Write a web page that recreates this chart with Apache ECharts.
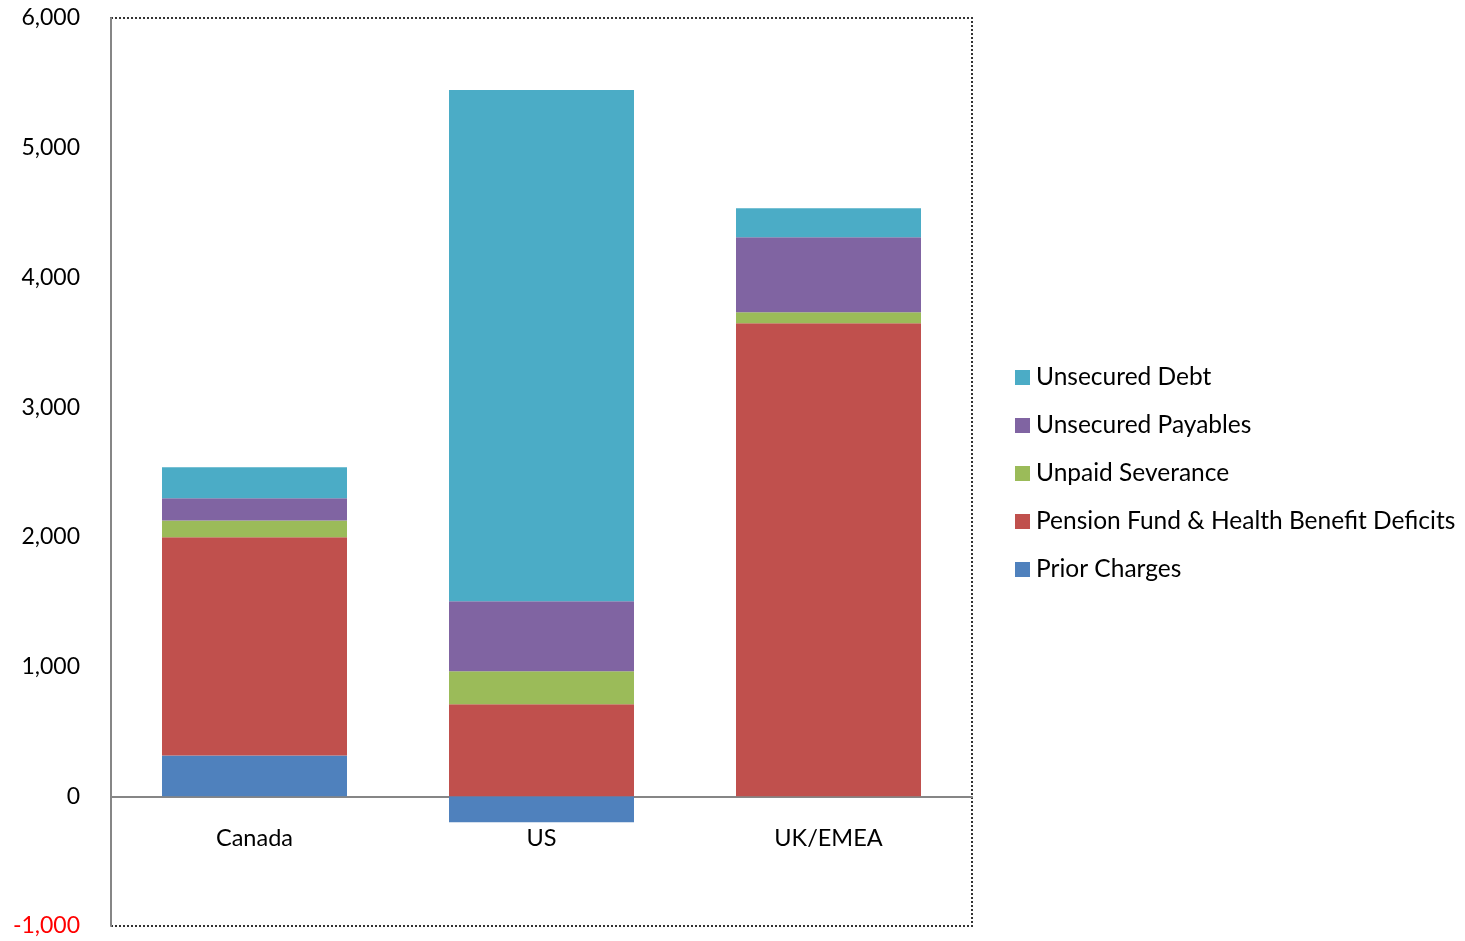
<!DOCTYPE html>
<html>
<head>
<meta charset="utf-8">
<script src="https://cdn.jsdelivr.net/npm/echarts@6/dist/echarts.min.js"></script>
<style>
  html, body { margin: 0; padding: 0; background: #ffffff; }
  #chart { width: 1465px; height: 941px; }
</style>
</head>
<body>
<div id="chart"></div>
<script>
// Regions along the x axis
const regions = ['Canada', 'US', 'UK/EMEA'];

// Claim components per region (stacked bottom to top)
const priorCharges = [315, -200, 0];
const pensionDeficits = [1682, 709, 3647];
const unpaidSeverance = [130, 255, 85];
const unsecuredPayables = [170, 540, 578];
const unsecuredDebt = [240, 3940, 224];

// Y axis tick range
const yMin = -1000;
const yMax = 6000;
const yStep = 1000;

const fontFamily = 'Lato, "Open Sans", sans-serif';

// Plot area placement
const gridTop = 18;
const gridBottom = 15;
const chartHeight = 941;
const plotHeight = chartHeight - gridTop - gridBottom;
// Lift the category axis from the bottom edge up to the zero line
const zeroLift = plotHeight * (0 - yMin) / (yMax - yMin);

const chart = echarts.init(document.getElementById('chart'));

function bar(name, data, color) {
  return {
    name: name,
    type: 'bar',
    stack: 'total',
    data: data,
    barWidth: 185,
    itemStyle: { color: color },
    emphasis: { disabled: true }
  };
}

chart.setOption({
  animation: false,
  backgroundColor: '#ffffff',
  grid: {
    left: 111,
    right: 493,
    top: gridTop,
    bottom: gridBottom,
    outerBoundsMode: 'none',
    containLabel: false,
    show: true,
    borderColor: '#333333',
    borderWidth: 2,
    borderType: 'dotted',
    backgroundColor: 'transparent'
  },
  legend: {
    orient: 'vertical',
    left: 1010,
    top: 360,
    itemWidth: 15,
    itemHeight: 15,
    itemGap: 23,
    icon: 'rect',
    data: ['Unsecured Debt', 'Unsecured Payables', 'Unpaid Severance',
           'Pension Fund & Health Benefit Deficits', 'Prior Charges'],
    textStyle: { fontFamily: fontFamily, fontSize: 24.5, color: '#000000', padding: [0, 0, 0, 1] }
  },
  xAxis: {
    type: 'category',
    data: regions,
    offset: -zeroLift,
    axisLine: { onZero: false, lineStyle: { color: '#868686', width: 2 } },
    axisTick: { show: false },
    axisLabel: { fontFamily: fontFamily, fontSize: 23.5, color: '#000000', margin: 30 },
    splitLine: { show: false }
  },
  yAxis: {
    type: 'value',
    min: yMin,
    max: yMax,
    interval: yStep,
    axisLine: { show: true, lineStyle: { color: '#868686', width: 2 } },
    axisTick: { show: false },
    splitLine: { show: false },
    axisLabel: {
      fontFamily: fontFamily,
      fontSize: 23,
      margin: 31,
      color: function (v) { return v < 0 ? '#ff0000' : '#000000'; },
      formatter: function (v) { return v.toLocaleString('en-US'); }
    }
  },
  series: [
    bar('Prior Charges', priorCharges, '#4F81BD'),
    bar('Pension Fund & Health Benefit Deficits', pensionDeficits, '#C0504D'),
    bar('Unpaid Severance', unpaidSeverance, '#9BBB59'),
    bar('Unsecured Payables', unsecuredPayables, '#8064A2'),
    bar('Unsecured Debt', unsecuredDebt, '#4BACC6')
  ]
});
</script>
</body>
</html>
